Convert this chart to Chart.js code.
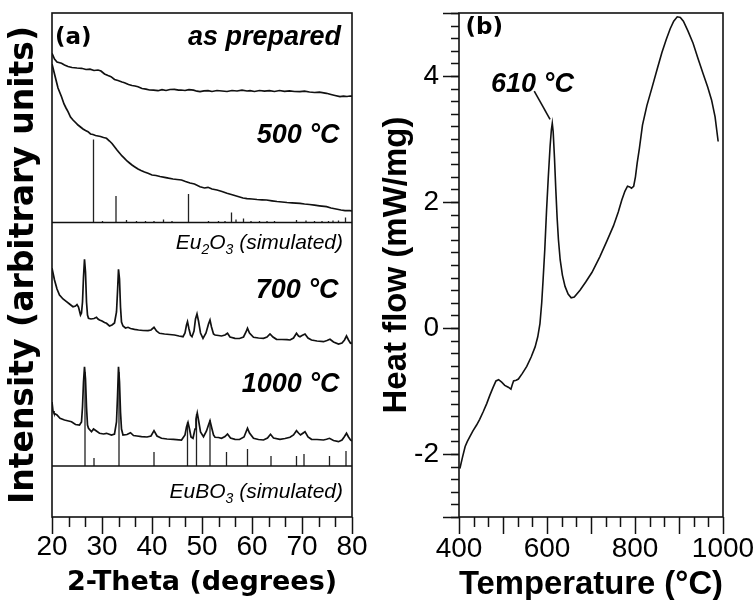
<!DOCTYPE html>
<html>
<head>
<meta charset="utf-8">
<script src="https://cdn.jsdelivr.net/npm/chart.js@4.4.1/dist/chart.umd.min.js"></script>
<style>
  html, body { margin:0; padding:0; background:#fff; }
  body { width:756px; height:600px; position:relative; overflow:hidden; }
  canvas { position:absolute; top:0; }
  #ca { left:0; }
  #cb { left:360px; }
</style>
</head>
<body>
<canvas id="ca" width="380" height="600"></canvas>
<canvas id="cb" width="396" height="600"></canvas>
<script>
// ---------------- Panel (a): XRD, 2-Theta (degrees) vs intensity (arbitrary units) ----------------
const thetaTicks = [20, 30, 40, 50, 60, 70, 80];

const asPrepared = [[20.0,463.7],[20.5,458],[21.0,455],[21.9,453.7],[22.5,452],[23.2,450.5],[24.0,449.5],[25.0,449],[25.9,448.7],[26.8,447.5],[27.6,447.8],[28.4,446.5],[29.2,447],[29.8,446],[30.5,443],[31.2,441.5],[31.8,440.3],[32.5,437.5],[33.2,436.5],[34.0,435],[34.5,434.3],[35.3,432.5],[36.0,431.5],[36.6,431],[37.2,430.3],[38.0,428.5],[38.8,427.8],[39.5,427],[40.3,426.8],[41.2,426.3],[42.0,427.3],[42.8,426.5],[43.6,427.5],[44.5,427.7],[45.3,426.8],[45.8,427],[46.6,426.5],[47.4,427.3],[48.3,426.8],[49.0,425.8],[49.6,425.3],[50.4,426.2],[51.2,426.3],[52.0,425.5],[53.0,426.5],[54.0,426],[55.0,425.5],[56.0,426.5],[57.0,426],[58.0,426.8],[59.0,426],[59.6,426.3],[60.5,425.5],[61.5,426.5],[62.5,425.8],[63.5,426.3],[64.5,425.5],[65.5,426.5],[66.5,425.6],[67.5,426.2],[68.5,425.5],[69.6,425.3],[70.5,425.8],[71.5,425],[72.5,424.5],[73.5,424.8],[74.9,423.7],[75.8,422.5],[76.6,421.5],[77.6,420.3],[78.3,420.8],[79.0,420.5],[79.6,421],[80.0,420.8]];

const c500 = [[20.0,453],[20.4,445],[20.8,437],[21.2,429],[21.6,424],[21.9,420.3],[22.4,413],[22.8,409],[23.2,405.3],[23.7,400],[24.2,397],[24.7,394.5],[25.2,392],[25.7,390],[26.2,388],[26.7,386.5],[27.2,385.3],[27.7,383],[28.2,382.5],[28.7,381.5],[29.2,381],[29.7,380.5],[30.3,379.5],[30.9,378.7],[31.5,376],[32.0,373.5],[32.5,370.3],[33.0,367],[33.5,364],[34.0,361],[34.5,358.7],[35.0,356],[35.5,354],[36.0,352],[36.5,350.3],[37.2,348],[37.8,346.5],[38.5,345],[39.2,343.7],[40.0,342],[40.8,341.5],[41.6,340.5],[42.5,339.7],[43.3,338.8],[44.2,338],[45.0,337.5],[45.9,337],[46.7,335.5],[47.6,334],[48.5,333],[49.6,330.3],[50.5,329],[51.2,329.7],[52.0,328],[53.0,327],[54.0,325.5],[55.0,323.8],[56.2,322],[57.2,320.5],[58.2,319],[59.0,318.3],[60.0,318],[61.0,317.5],[62.0,317.2],[62.9,317],[64.0,316.2],[65.0,315.5],[66.0,315],[67.0,314.5],[68.0,314.2],[69.6,313.7],[70.5,313],[71.5,312.5],[72.5,311.8],[73.5,311.2],[74.9,310.3],[75.8,309],[76.8,308],[77.8,307],[78.6,306.3],[79.6,306.3],[80.0,306]];

const c700 = [[20.0,248.7],[20.5,237],[21.0,228],[21.5,222],[22.2,218],[22.9,215.3],[23.5,213],[24.2,210.3],[24.7,211],[25.0,212.5],[25.3,210],[25.7,202],[25.9,204],[26.1,215],[26.3,240],[26.5,257.7],[26.7,245],[26.9,215],[27.1,202],[27.3,198.7],[27.8,198],[28.4,198.5],[28.9,199.7],[29.2,198],[29.5,197],[30.0,196],[30.5,194.5],[30.9,193.7],[31.5,191],[32.0,192],[32.5,194],[32.9,205],[33.1,225],[33.3,247.7],[33.5,238],[33.7,210],[33.9,195],[34.2,191],[34.7,189],[35.2,189.7],[35.7,188.5],[36.5,187.7],[37.3,187],[38.2,186.5],[39.2,186.3],[39.8,187],[40.4,189.7],[40.9,186],[41.5,183.7],[42.5,183],[43.5,182.5],[44.5,182],[45.4,181],[46.2,180.3],[46.6,184],[46.9,192],[47.1,195.3],[47.4,188],[47.7,182],[48.0,180.3],[48.4,186],[48.7,198],[49.0,203],[49.3,196],[49.7,184],[50.2,178.7],[50.8,184],[51.3,193],[51.6,197],[51.9,190],[52.3,183],[52.6,182],[53.3,181.5],[53.9,181],[54.6,182],[55.1,183.7],[55.6,180],[56.6,178.7],[57.5,178.5],[58.3,180],[58.8,185],[59.1,188.7],[59.5,184],[60.3,179.7],[61.3,179],[62.3,178.7],[63.0,180],[63.6,183],[64.2,180],[64.9,177.7],[66.0,177.5],[67.0,177.3],[67.6,177],[68.3,179],[68.9,183.7],[69.3,181],[69.6,180.3],[70.0,181.5],[70.6,183],[71.2,179],[71.9,177],[73.0,176],[74.3,175.3],[75.0,176.5],[75.6,177.7],[76.3,175],[77.3,173],[78.0,174],[78.5,177],[78.9,181],[79.3,177],[79.7,173.7],[80.0,174]];

const c1000 = [[20.0,115],[20.2,106],[20.4,103.7],[21.0,102],[21.6,98.7],[22.5,97],[23.3,96],[23.9,95.3],[24.7,92.5],[25.5,92],[25.9,95],[26.1,110],[26.3,135],[26.5,150.3],[26.7,138],[26.9,110],[27.1,92],[27.3,88.7],[27.9,85.3],[28.3,88],[28.6,87],[29.5,83.7],[30.3,83],[30.9,83.7],[31.9,82],[32.5,83],[32.9,95],[33.1,120],[33.3,150.3],[33.5,135],[33.7,105],[33.9,88],[34.2,82],[35.0,82.5],[35.7,84.3],[36.3,81.5],[37.0,81],[37.9,80.3],[39.0,80],[39.8,81],[40.4,86.3],[41.0,81],[41.9,78.7],[43.0,78],[44.3,77.7],[45.9,77],[46.6,82],[46.9,90],[47.2,94.5],[47.5,88],[47.8,80],[48.2,78.7],[48.6,88],[48.8,98],[49.05,104],[49.3,97],[49.7,85],[50.3,80.3],[50.9,86],[51.3,92],[51.6,96.3],[51.9,90],[52.3,82],[52.6,79.7],[53.3,79.5],[53.9,78.7],[54.6,80.5],[55.1,83],[55.7,79],[56.6,77.7],[57.5,77.5],[58.4,80],[58.8,85],[59.1,88.7],[59.5,84],[60.3,78.7],[61.3,77.5],[62.3,77],[63.1,79],[63.7,82.7],[64.3,79],[65.6,77.7],[66.6,78.5],[67.6,79.7],[68.3,82],[68.9,86.3],[69.3,84],[69.7,82],[70.1,83.5],[70.6,85.3],[71.2,80],[71.9,77.7],[73.0,77.5],[74.3,77],[74.9,77.8],[75.5,78.7],[76.3,76.5],[77.3,75.3],[78.0,77],[78.5,80.5],[78.9,83.7],[79.3,80],[79.7,77],[80.0,76]];

// simulated reference patterns (stick positions in 2-Theta and stick heights, a.u.)
const eu2o3Base = 294.5;
const eu2o3Pos = [28.3,30.1,32.8,34.9,36.9,38.7,40.4,42.3,44.0,47.3,51.3,53.3,54.6,55.9,56.8,58.3,59.8,61.5,63.0,64.5,68.9,70.8,72.5,74.0,75.3,76.2,77.3,78.7];
const eu2o3H   = [83,1.5,26.5,2.5,1.5,1.5,1.5,3,1.5,28.5,1.5,1.5,1.5,10,3,4,1.5,1.5,1.5,1.5,2.5,2,1.5,1.5,1.5,2,2,5];
const eubo3Base = 51;
const eubo3Pos = [26.6,28.4,33.4,40.4,47.1,48.9,51.6,54.9,59.1,63.8,68.9,70.4,75.5,78.8];
const eubo3H   = [94,8,94,14,44,52,46,14,17,10,10,12,10,15];

// ---------------- Panel (b): DSC ----------------
const tempTicks = [400, 600, 800, 1000];
const heatTicks = [-2, 0, 2, 4];
const dsc = [[402,-2.23],[408,-2.05],[414,-1.88],[419,-1.80],[425,-1.72],[432,-1.63],[440,-1.54],[447,-1.45],[455,-1.33],[463,-1.20],[470,-1.07],[477,-0.95],[484,-0.84],[490,-0.82],[497,-0.86],[504,-0.91],[512,-0.94],[518,-0.97],[521,-0.90],[524,-0.84],[530,-0.83],[535,-0.81],[544,-0.72],[554,-0.61],[564,-0.46],[573,-0.30],[579,-0.14],[584,0.07],[588,0.40],[591,0.75],[595,1.25],[599,1.87],[603,2.40],[607,2.88],[610,3.15],[612,3.25],[614,3.12],[617,2.70],[620,2.20],[623,1.75],[626,1.40],[630,1.08],[635,0.84],[641,0.66],[648,0.54],[655,0.48],[662,0.49],[675,0.60],[688,0.73],[702,0.88],[720,1.13],[736,1.38],[751,1.62],[762,1.84],[770,2.03],[777,2.17],[783,2.25],[788,2.24],[792,2.22],[797,2.25],[801,2.40],[805,2.62],[810,2.85],[817,3.22],[827,3.53],[838,3.80],[850,4.10],[861,4.37],[871,4.58],[880,4.75],[888,4.87],[896,4.94],[903,4.93],[910,4.87],[920,4.72],[932,4.52],[943,4.28],[955,4.03],[965,3.83],[974,3.62],[982,3.35],[989,2.96]];
const peakLeader = [[571,3.76],[607,3.31]];

// ---------------- helpers ----------------
const pts = arr => arr.map(p => ({x:p[0], y:p[1]}));
function sticks(pos, hts, base) {
  const d = [];
  pos.forEach((p, i) => { d.push({x:p, y:base}, {x:p, y:base + hts[i]}, {x:p, y:null}); });
  return d;
}
function range(a, b, step) { const r = []; const n = Math.round((b - a) / step); for (let k = 0; k <= n; k++) r.push(a + k * step); return r; }

const FONT = "'Liberation Sans', Arial, sans-serif";
const WIDE = "'DejaVu Sans', sans-serif";

const frameTicks = {
  id: 'frameTicks',
  afterDraw(chart, args, opts) {
    const ctx = chart.ctx, a = chart.chartArea;
    ctx.save();
    ctx.strokeStyle = '#111';
    ctx.lineWidth = 1.5;
    (opts.marks || []).forEach(m => {
      const s = chart.scales[m.axis];
      m.values.forEach(v => {
        const p = Math.round(s.getPixelForValue(v)) + 0.5;
        ctx.beginPath();
        if (m.axis === 'x') { ctx.moveTo(p, a.bottom); ctx.lineTo(p, a.bottom + m.len); }
        else { ctx.moveTo(a.left, p); ctx.lineTo(a.left - m.len, p); }
        ctx.stroke();
      });
    });
    ctx.lineWidth = 1.6;
    ctx.strokeRect(a.left, a.top, a.right - a.left, a.bottom - a.top);
    ctx.restore();
  }
};

const textNotes = {
  id: 'textNotes',
  afterDraw(chart, args, opts) {
    const ctx = chart.ctx;
    ctx.save();
    ctx.fillStyle = '#000';
    ctx.textBaseline = 'alphabetic';
    ctx.textAlign = 'left';
    (opts.notes || []).forEach(n => {
      const px = chart.scales.x.getPixelForValue(n.x);
      const py = chart.scales.y.getPixelForValue(n.y);
      const parts = n.parts.map(p => {
        const size = p.sub ? Math.round(n.size * 0.68) : n.size;
        const font = n.style + ' ' + size + 'px ' + n.family;
        ctx.font = font;
        return {t: p.t, font, w: ctx.measureText(p.t).width, dy: p.sub ? n.size * 0.22 : 0};
      });
      const total = parts.reduce((s, p) => s + p.w, 0);
      let x = n.align === 'right' ? px - total : n.align === 'center' ? px - total / 2 : px;
      parts.forEach(p => { ctx.font = p.font; ctx.fillText(p.t, x, py + p.dy); x += p.w; });
    });
    ctx.restore();
  }
};

const traceStyle = {borderColor:'#111', borderWidth:1.7, pointRadius:0, tension:0, fill:false, spanGaps:false};
const stickStyle = {borderColor:'#222', borderWidth:1.3, pointRadius:0, tension:0, fill:false, spanGaps:false};
const plainNum = v => String(v);
// keep the plot frame where the layout padding puts it (no label overhang padding)
const fixX = s => { s.height = 83; s.paddingLeft = 0; s.paddingRight = 0; };

// ---------------- Chart (a) ----------------
new Chart(document.getElementById('ca'), {
  type: 'line',
  data: {
    datasets: [
      Object.assign({data: pts(asPrepared)}, traceStyle),
      Object.assign({data: pts(c500)}, traceStyle),
      Object.assign({data: pts([[20, eu2o3Base],[80, eu2o3Base]])}, traceStyle, {borderWidth:1.5}),
      Object.assign({data: sticks(eu2o3Pos, eu2o3H, eu2o3Base)}, stickStyle),
      Object.assign({data: pts(c700)}, traceStyle),
      Object.assign({data: pts(c1000)}, traceStyle),
      Object.assign({data: pts([[20, eubo3Base],[80, eubo3Base]])}, traceStyle, {borderWidth:1.5}),
      Object.assign({data: sticks(eubo3Pos, eubo3H, eubo3Base)}, stickStyle)
    ]
  },
  options: {
    responsive: false, animation: false, devicePixelRatio: 1,
    layout: {padding: {left:0, right:28, top:13, bottom:0}},
    plugins: {
      legend: {display:false}, tooltip: {enabled:false},
      frameTicks: {marks: [
        {axis:'x', values: thetaTicks, len:17},
        {axis:'x', values: range(20, 80, 10/3).filter(v => Math.abs(v/10 - Math.round(v/10)) > 0.01), len:10}
      ]},
      textNotes: {notes: [
        {x:20.6, y:473, align:'left', size:23, style:'bold', family:WIDE, parts:[{t:'(a)'}]},
        {x:77.8, y:472, align:'right', size:27, style:'italic bold', family:FONT, parts:[{t:'as prepared'}]},
        {x:77.5, y:373.7, align:'right', size:27, style:'italic bold', family:FONT, parts:[{t:'500 °C'}]},
        {x:78.2, y:267.7, align:'right', size:21, style:'italic', family:FONT, parts:[{t:'Eu'},{t:'2',sub:true},{t:'O'},{t:'3',sub:true},{t:' (simulated)'}]},
        {x:77.3, y:218.7, align:'right', size:27, style:'italic bold', family:FONT, parts:[{t:'700 °C'}]},
        {x:77.5, y:125.3, align:'right', size:27, style:'italic bold', family:FONT, parts:[{t:'1000 °C'}]},
        {x:78.2, y:18.7, align:'right', size:21, style:'italic', family:FONT, parts:[{t:'EuBO'},{t:'3',sub:true},{t:' (simulated)'}]}
      ]}
    },
    scales: {
      x: {
        type:'linear', min:20, max:80,
        afterBuildTicks: s => { s.ticks = thetaTicks.map(v => ({value:v})); },
        afterFit: fixX,
        grid: {display:false, drawTicks:false}, border: {display:false},
        ticks: {color:'#000', font:{family:FONT, size:28}, padding:13, maxRotation:0, autoSkip:false, callback: plainNum},
        title: {display:true, text:'2-Theta (degrees)', color:'#000', font:{family:WIDE, size:27, weight:'bold', lineHeight:1}, padding:{top:0, bottom:4}}
      },
      y: {
        type:'linear', min:0, max:504,
        afterFit: s => { s.width = 52; s.paddingTop = 0; s.paddingBottom = 0; },
        grid: {display:false, drawTicks:false}, border: {display:false},
        ticks: {display:false},
        title: {display:true, text:'Intensity (arbitrary units)', color:'#000', font:{family:WIDE, size:33, weight:'bold', lineHeight:1}, padding:{top:8, bottom:0}}
      }
    }
  },
  plugins: [frameTicks, textNotes]
});

// ---------------- Chart (b) ----------------
new Chart(document.getElementById('cb'), {
  type: 'line',
  data: {
    datasets: [
      Object.assign({data: pts(dsc)}, traceStyle, {borderWidth:1.6}),
      Object.assign({data: pts(peakLeader)}, traceStyle, {borderWidth:1.6})
    ]
  },
  options: {
    responsive: false, animation: false, devicePixelRatio: 1,
    layout: {padding: {left:0, right:33, top:13, bottom:0}},
    plugins: {
      legend: {display:false}, tooltip: {enabled:false},
      frameTicks: {marks: [
        {axis:'x', values: range(400, 1000, 100), len:17},
        {axis:'x', values: range(400, 1000, 100/3).filter(v => Math.abs(v/100 - Math.round(v/100)) > 0.01), len:10},
        {axis:'y', values: [-3, -2, 0, 2, 4, 5], len:16},
        {axis:'y', values: range(-3, 5, 0.2), len:8}
      ]},
      textNotes: {notes: [
        {x:414.8, y:4.67, align:'left', size:23, style:'bold', family:WIDE, parts:[{t:'(b)'}]},
        {x:567, y:3.75, align:'center', size:27, style:'italic bold', family:FONT, parts:[{t:'610 °C'}]}
      ]}
    },
    scales: {
      x: {
        type:'linear', min:400, max:1000,
        afterBuildTicks: s => { s.ticks = tempTicks.map(v => ({value:v})); },
        afterFit: fixX,
        grid: {display:false, drawTicks:false}, border: {display:false},
        ticks: {color:'#000', font:{family:FONT, size:28}, padding:15, maxRotation:0, autoSkip:false, callback: plainNum},
        title: {display:true, text:'Temperature (\u00B0C)', color:'#000', font:{family:FONT, size:33, weight:'bold', lineHeight:0.92}, padding:{top:0, bottom:0}}
      },
      y: {
        type:'linear', min:-3, max:5,
        afterBuildTicks: s => { s.ticks = heatTicks.map(v => ({value:v})); },
        afterFit: s => { s.width = 99; s.paddingTop = 0; s.paddingBottom = 0; },
        grid: {display:false, drawTicks:false}, border: {display:false},
        ticks: {color:'#000', font:{family:FONT, size:28}, padding:20, callback: plainNum},
        title: {display:true, text:'Heat flow (mW/mg)', color:'#000', font:{family:FONT, size:33, weight:'bold', lineHeight:1}, padding:{top:20, bottom:0}}
      }
    }
  },
  plugins: [frameTicks, textNotes]
});
</script>
</body>
</html>
